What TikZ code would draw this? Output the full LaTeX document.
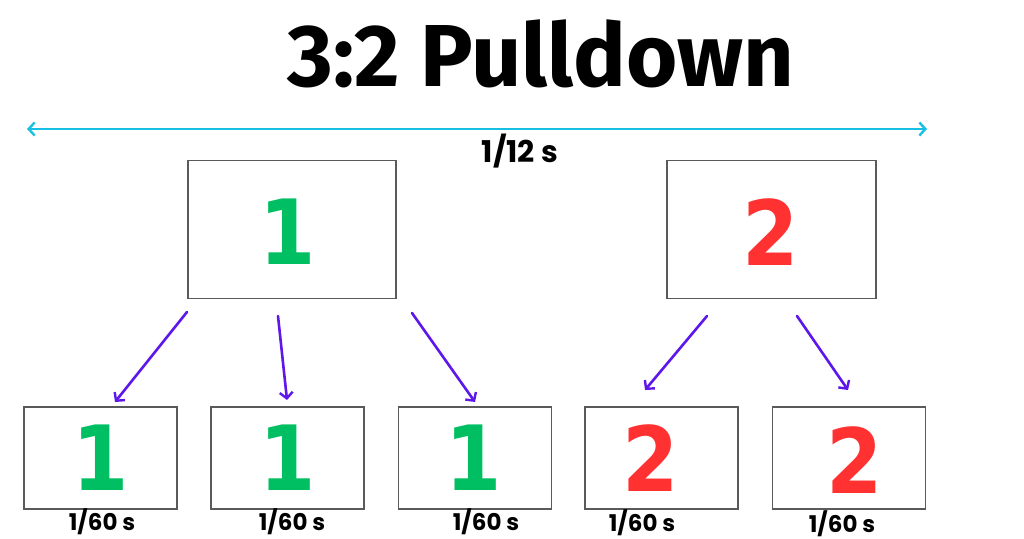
\documentclass[tikz,border=0pt]{standalone}
\usepackage{fontspec}
\setmainfont{Poppins}
\newfontfamily\titlefont{Fira Sans}
\newfontfamily\digitfont{DejaVu Sans Condensed}
\usetikzlibrary{arrows.meta}
\definecolor{framegray}{HTML}{5A5A5A}
\definecolor{fgreen}{HTML}{00BF63}
\definecolor{fred}{HTML}{FF3131}
\definecolor{arrpurple}{HTML}{5E17EB}
\definecolor{arrcyan}{HTML}{17C0E3}
\begin{document}
\begin{tikzpicture}[x=1pt,y=-1pt,
  frame/.style={draw=framegray,line width=1.6pt,minimum width=#1,inner sep=0pt},
  topframe/.style={frame=208pt,minimum height=138pt},
  botframe/.style={frame=153pt,minimum height=102pt},
  bigdigit/.style={font=\digitfont\bfseries\fontsize{90}{90}\selectfont,inner sep=0pt},
  smalldigit/.style={font=\digitfont\bfseries\fontsize{90}{90}\selectfont,inner sep=0pt},
  timelbl/.style={font=\bfseries\fontsize{23}{23}\selectfont,inner sep=0pt},
  fieldarrow/.style={draw=arrpurple,line width=2.6pt,line cap=round,-{Straight Barb[length=6pt,width=13pt,line width=2.4pt]}},
  spanarrow/.style={draw=arrcyan,line width=2.6pt,{Straight Barb[length=6pt,width=13pt,line width=2.4pt]}-{Straight Barb[length=6pt,width=13pt,line width=2.4pt]}}
]
\useasboundingbox (0,0) rectangle (1024,538);
% title
\node[font=\titlefont\bfseries\fontsize{88}{88}\selectfont,inner sep=0pt] (title) at (541,54) {3:2 Pulldown};
% span arrow
\coordinate (spanL) at (27,129);
\coordinate (spanR) at (927,129);
\draw[spanarrow] (spanL) -- (spanR);
\node[timelbl,font=\bfseries\fontsize{30}{30}\selectfont] (span) at (520,151) {1/12 s};
% top frames
\node[topframe] (f1) at (292,229.5) {};
\node[topframe,minimum width=209pt] (f2) at (771.5,229.5) {};
\node[bigdigit,text=fgreen] (d1) at (288,232) {1};
\node[bigdigit,text=fred] (d2) at (771,232) {2};
% bottom frames
\node[botframe] (ba) at (100.5,458) {};
\node[botframe] (bb) at (287.5,458) {};
\node[botframe] (bc) at (475,458) {};
\node[botframe] (bd) at (661.5,458) {};
\node[botframe] (be) at (849,458) {};
\node[smalldigit,text=fgreen] (da) at (101,458) {1};
\node[smalldigit,text=fgreen] (db) at (288,458) {1};
\node[smalldigit,text=fgreen] (dc) at (474,458) {1};
\node[smalldigit,text=fred] (dd) at (651,458) {2};
\node[smalldigit,text=fred] (de) at (855,460) {2};
% labels
\node[timelbl] (la) at (102,522) {1/60 s};
\node[timelbl] (lb) at (292,522) {1/60 s};
\node[timelbl] (lc) at (486,522) {1/60 s};
\node[timelbl] (ld) at (642,523) {1/60 s};
\node[timelbl] (le) at (842,523.5) {1/60 s};
% arrows
\coordinate (s1) at (187,312); \coordinate (e1) at (115,402);
\coordinate (s2) at (278,316); \coordinate (e2) at (287,400);
\coordinate (s3) at (412,313); \coordinate (e3) at (475,402);
\coordinate (s4) at (707,316); \coordinate (e4) at (645,390);
\coordinate (s5) at (797,316); \coordinate (e5) at (848,390);
\draw[fieldarrow] (s1) -- (e1);
\draw[fieldarrow] (s2) -- (e2);
\draw[fieldarrow] (s3) -- (e3);
\draw[fieldarrow] (s4) -- (e4);
\draw[fieldarrow] (s5) -- (e5);
\end{tikzpicture}
\end{document}
